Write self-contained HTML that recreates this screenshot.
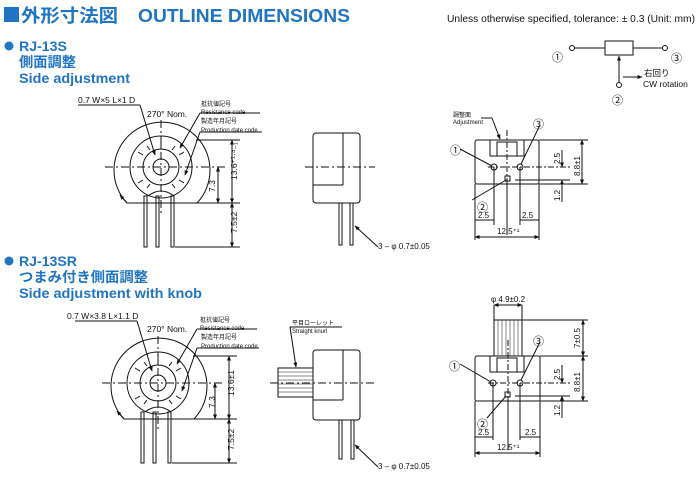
<!DOCTYPE html>
<html><head><meta charset="utf-8"><style>
body{margin:0;background:#fff;width:700px;height:486px;overflow:hidden}
svg{display:block}
.b{font-family:"Liberation Sans","Noto Sans CJK JP",sans-serif;font-weight:bold;fill:#1f74c4}
.t{font-family:"Liberation Sans","Noto Sans CJK JP",sans-serif;fill:#111}
</style></head><body>
<svg width="700" height="486" viewBox="0 0 700 486" xmlns="http://www.w3.org/2000/svg">
<defs>
<marker id="a" viewBox="0 0 10 10" refX="9" refY="5" markerWidth="5" markerHeight="5" orient="auto-start-reverse"><path d="M0,1 L10,5 L0,9z" fill="#111"/></marker>
</defs>
<!-- headers -->
<rect x="4" y="7" width="15" height="15" fill="#1f74c4"/>
<text class="b" x="21" y="22" font-size="18" textLength="97" lengthAdjust="spacingAndGlyphs">外形寸法図</text>
<text class="b" x="138" y="22" font-size="18" textLength="212" lengthAdjust="spacingAndGlyphs">OUTLINE DIMENSIONS</text>
<text class="t" x="447" y="22" font-size="10" textLength="248" lengthAdjust="spacingAndGlyphs">Unless otherwise specified, tolerance: ± 0.3 (Unit: mm)</text>
<circle cx="9" cy="46" r="4.5" fill="#1f74c4"/>
<text class="b" x="19" y="51" font-size="14" textLength="48" lengthAdjust="spacingAndGlyphs">RJ-13S</text>
<text class="b" x="19" y="67" font-size="14" textLength="57" lengthAdjust="spacingAndGlyphs">側面調整</text>
<text class="b" x="19" y="83" font-size="14" textLength="111" lengthAdjust="spacingAndGlyphs">Side adjustment</text>
<circle cx="9" cy="261" r="4.5" fill="#1f74c4"/>
<text class="b" x="19" y="266" font-size="14" textLength="58" lengthAdjust="spacingAndGlyphs">RJ-13SR</text>
<text class="b" x="19" y="282" font-size="14" textLength="129" lengthAdjust="spacingAndGlyphs">つまみ付き側面調整</text>
<text class="b" x="19" y="298" font-size="14" textLength="183" lengthAdjust="spacingAndGlyphs">Side adjustment with knob</text>

<g stroke="#111" fill="none" stroke-width="1">
<!-- front view generic -->
<g id="fv">
<path d="M127,203 A48,48 0 1 1 197,203 Z" fill="#fff"/>
<circle cx="161" cy="167" r="31"/>
<circle cx="161" cy="167" r="18"/>
<circle cx="161" cy="167" r="8"/>
<path d="M148,196 Q161,186 174,196"/>
<line x1="105" y1="167" x2="225" y2="167" stroke-dasharray="8,3,2,3"/>
<line x1="161" y1="120" x2="161" y2="215" stroke-dasharray="8,3,2,3"/>
<path d="M143,155 l-5,-3 M143,180 l-5,3 M179,155 l5,-3 M179,180 l5,3 M161,149 v-5 M150,150 l-3,-4 M172,150 l3,-4 M150,184 l-3,4 M172,184 l3,4"/>
<rect x="144" y="196" width="3" height="51"/>
<rect x="156" y="196" width="3" height="51"/>
<rect x="171" y="196" width="3" height="51"/>
<line x1="197" y1="203" x2="240" y2="203"/>
<line x1="196" y1="140" x2="240" y2="140"/>
<line x1="175" y1="247" x2="240" y2="247"/>
<line x1="232" y1="140" x2="232" y2="203" marker-start="url(#a)" marker-end="url(#a)"/>
<line x1="218" y1="167" x2="218" y2="203" marker-start="url(#a)" marker-end="url(#a)"/>
<line x1="232" y1="203" x2="232" y2="247" marker-start="url(#a)" marker-end="url(#a)"/>
<line x1="78" y1="105" x2="140" y2="105"/><line x1="140" y1="105" x2="155" y2="155" marker-end="url(#a)"/>
<line x1="200" y1="113" x2="260" y2="113"/><line x1="200" y1="113" x2="180" y2="148" marker-end="url(#a)"/>
<line x1="200" y1="132" x2="262" y2="132"/><line x1="200" y1="132" x2="185" y2="175" marker-end="url(#a)"/>
<line x1="127" y1="203" x2="120" y2="195" marker-end="url(#a)"/>
</g>
<!-- side view 1 -->
<rect x="313" y="133" width="47" height="70" rx="3" fill="#fff"/>
<line x1="343" y1="133" x2="343" y2="185"/><line x1="313" y1="185" x2="343" y2="185"/>
<line x1="305" y1="167" x2="375" y2="167" stroke-dasharray="8,3,2,3"/>
<rect x="339" y="203" width="3" height="42"/><rect x="350" y="203" width="3" height="42"/>
<line x1="378" y1="247" x2="355" y2="226" marker-end="url(#a)"/>
<!-- schematic -->
<circle cx="572" cy="48" r="2.5"/><line x1="575" y1="48" x2="605" y2="48"/>
<rect x="605" y="41" width="28" height="14"/>
<line x1="633" y1="48" x2="662" y2="48"/><circle cx="665" cy="48" r="2.5"/>
<line x1="619" y1="82" x2="619" y2="56" marker-end="url(#a)"/><circle cx="619" cy="85" r="2.5"/>
<line x1="623" y1="77" x2="642" y2="77" marker-end="url(#a)"/>
<!-- rear view 1 -->
<rect x="475" y="140" width="64" height="44" rx="2" fill="#fff"/>
<path d="M490,140 v16 h34 v-16 M497,156 v-14 h20 v14"/>
<line x1="507" y1="130" x2="507" y2="200" stroke-dasharray="6,2,2,2"/>
<line x1="488" y1="167" x2="570" y2="167" stroke-dasharray="6,2,2,2"/>
<circle cx="494" cy="167" r="3"/><circle cx="520" cy="167" r="3"/><rect x="505" y="176" width="5" height="5"/>
<line x1="475" y1="184" x2="475" y2="240"/><line x1="539" y1="184" x2="539" y2="240"/>
<line x1="494" y1="167" x2="494" y2="225"/><line x1="520" y1="167" x2="520" y2="225"/><line x1="507" y1="180" x2="507" y2="235"/>
<line x1="475" y1="237" x2="539" y2="237" marker-start="url(#a)" marker-end="url(#a)"/>
<line x1="475" y1="220" x2="494" y2="220"/><line x1="520" y1="220" x2="539" y2="220"/>
<line x1="539" y1="140" x2="588" y2="140"/><line x1="539" y1="184" x2="588" y2="184"/>
<line x1="582" y1="140" x2="582" y2="184" marker-start="url(#a)" marker-end="url(#a)"/>
<line x1="515" y1="180" x2="570" y2="180"/>
<line x1="562" y1="150" x2="562" y2="167" marker-end="url(#a)"/><line x1="562" y1="180" x2="562" y2="202" marker-start="url(#a)"/>
<line x1="481" y1="118" x2="492" y2="118"/><line x1="492" y1="118" x2="500" y2="139" marker-end="url(#a)"/>
<line x1="460" y1="149" x2="492" y2="166"/><line x1="540" y1="125" x2="521" y2="164"/><line x1="472" y1="200" x2="506" y2="180"/>
<!-- front view 2 -->
<use href="#fv" transform="translate(-3,216)"/>
<!-- side view 2 -->
<rect x="313" y="350" width="47" height="70" rx="3" fill="#fff"/>
<line x1="343" y1="350" x2="343" y2="400"/><line x1="313" y1="400" x2="343" y2="400"/>
<rect x="278" y="368" width="35" height="29" fill="#fff"/>
<path d="M278,372h35M278,376h35M278,380h35M278,384h35M278,388h35M278,392h35" stroke-width="0.5"/>
<line x1="270" y1="383" x2="375" y2="383" stroke-dasharray="8,3,2,3"/>
<rect x="339" y="420" width="3" height="39"/><rect x="351" y="420" width="3" height="39"/>
<line x1="290" y1="327" x2="342" y2="327"/><line x1="290" y1="327" x2="296" y2="367" marker-end="url(#a)"/>
<line x1="378" y1="467" x2="355" y2="445" marker-end="url(#a)"/>
<!-- rear view 2 -->
<rect x="494" y="320" width="28" height="36" fill="#fff"/>
<path d="M498,320v36M502,320v36M506,320v36M510,320v36M514,320v36M518,320v36" stroke-width="0.5"/>
<rect x="475" y="356" width="65" height="45" rx="2" fill="#fff"/>
<path d="M490,356 v16 h34 v-16 M497,372 v-14 h20 v14"/>
<line x1="508" y1="340" x2="508" y2="420" stroke-dasharray="6,2,2,2"/>
<line x1="488" y1="383" x2="570" y2="383" stroke-dasharray="6,2,2,2"/>
<circle cx="493" cy="383" r="3"/><circle cx="520" cy="383" r="3"/><rect x="505" y="392" width="5" height="5"/>
<line x1="475" y1="401" x2="475" y2="457"/><line x1="540" y1="401" x2="540" y2="457"/>
<line x1="493" y1="383" x2="493" y2="440"/><line x1="520" y1="383" x2="520" y2="440"/><line x1="508" y1="397" x2="508" y2="450"/>
<line x1="475" y1="453" x2="540" y2="453" marker-start="url(#a)" marker-end="url(#a)"/>
<line x1="475" y1="437" x2="493" y2="437"/><line x1="520" y1="437" x2="540" y2="437"/>
<line x1="494" y1="305" x2="522" y2="305" marker-start="url(#a)" marker-end="url(#a)"/>
<line x1="494" y1="305" x2="494" y2="320"/><line x1="522" y1="305" x2="522" y2="320"/>
<line x1="522" y1="320" x2="588" y2="320"/><line x1="540" y1="356" x2="588" y2="356"/><line x1="540" y1="401" x2="588" y2="401"/>
<line x1="583" y1="320" x2="583" y2="356" marker-start="url(#a)" marker-end="url(#a)"/>
<line x1="583" y1="356" x2="583" y2="401" marker-start="url(#a)" marker-end="url(#a)"/>
<line x1="515" y1="396" x2="570" y2="396"/>
<line x1="562" y1="365" x2="562" y2="383" marker-end="url(#a)"/><line x1="562" y1="396" x2="562" y2="418" marker-start="url(#a)"/>
<line x1="460" y1="364" x2="491" y2="382"/><line x1="540" y1="342" x2="521" y2="380"/><line x1="487" y1="418" x2="506" y2="396"/>
</g>

<g class="t" font-size="8">
<text x="78" y="103" font-size="8.5">0.7 W×5 L×1 D</text>
<text x="147" y="117" font-size="8.5">270° Nom.</text>
<text x="201" y="106" font-size="6">抵抗値記号</text>
<text x="201" y="114" font-size="6">Resistance code</text>
<text x="201" y="123" font-size="6">製造年月記号</text>
<text x="201" y="132" font-size="6">Production date code</text>
<text transform="translate(237,180) rotate(-90)" font-size="8.5">13.6⁺¹·⁴₋₁</text>
<text transform="translate(215,192) rotate(-90)" font-size="8.5">7.3</text>
<text transform="translate(237,233) rotate(-90)" font-size="8.5">7.5±2</text>
<text x="378" y="249" font-size="8">3 – φ 0.7±0.05</text>
<text x="552" y="61" font-size="11">①</text><text x="671" y="62" font-size="11">③</text><text x="612" y="104" font-size="11">②</text>
<text x="644" y="76" font-size="8.5">右回り</text><text x="643" y="87" font-size="8.5">CW rotation</text>
<text x="453" y="117" font-size="6">調整面</text><text x="453" y="124" font-size="6">Adjustment</text>
<text x="450" y="154" font-size="11">①</text><text x="533" y="128" font-size="11">③</text><text x="477" y="211" font-size="11">②</text>
<text x="478" y="218" font-size="8">2.5</text><text x="522" y="218" font-size="8">2.5</text>
<text x="497" y="234" font-size="8">12.5⁺¹</text>
<text transform="translate(560,164) rotate(-90)" font-size="8">2.5</text>
<text transform="translate(580,176) rotate(-90)" font-size="8">8.8±1</text>
<text transform="translate(560,201) rotate(-90)" font-size="8">1.2</text>
<text x="67" y="319" font-size="8.5">0.7 W×3.8 L×1.1 D</text>
<text x="147" y="332" font-size="8.5">270° Nom.</text>
<text x="200" y="322" font-size="6">抵抗値記号</text>
<text x="200" y="330" font-size="6">Resistance code</text>
<text x="201" y="339" font-size="6">製造年月記号</text>
<text x="201" y="348" font-size="6">Production date code</text>
<text transform="translate(234,396) rotate(-90)" font-size="8.5">13.6±1</text>
<text transform="translate(215,408) rotate(-90)" font-size="8.5">7.3</text>
<text transform="translate(234,450) rotate(-90)" font-size="8.5">7.5±2</text>
<text x="292" y="325" font-size="6">平目ローレット</text><text x="292" y="333" font-size="6">Straight knurl</text>
<text x="378" y="469" font-size="8">3 – φ 0.7±0.05</text>
<text x="491" y="302" font-size="8">φ 4.9±0.2</text>
<text x="449" y="370" font-size="11">①</text><text x="533" y="345" font-size="11">③</text><text x="477" y="428" font-size="11">②</text>
<text x="478" y="435" font-size="8">2.5</text><text x="525" y="435" font-size="8">2.5</text>
<text x="497" y="450" font-size="8">12.5⁺¹</text>
<text transform="translate(580,348) rotate(-90)" font-size="8">7±0.5</text>
<text transform="translate(560,380) rotate(-90)" font-size="8">2.5</text>
<text transform="translate(580,392) rotate(-90)" font-size="8">8.8±1</text>
<text transform="translate(560,416) rotate(-90)" font-size="8">1.2</text>
</g>
</svg>
</body></html>
